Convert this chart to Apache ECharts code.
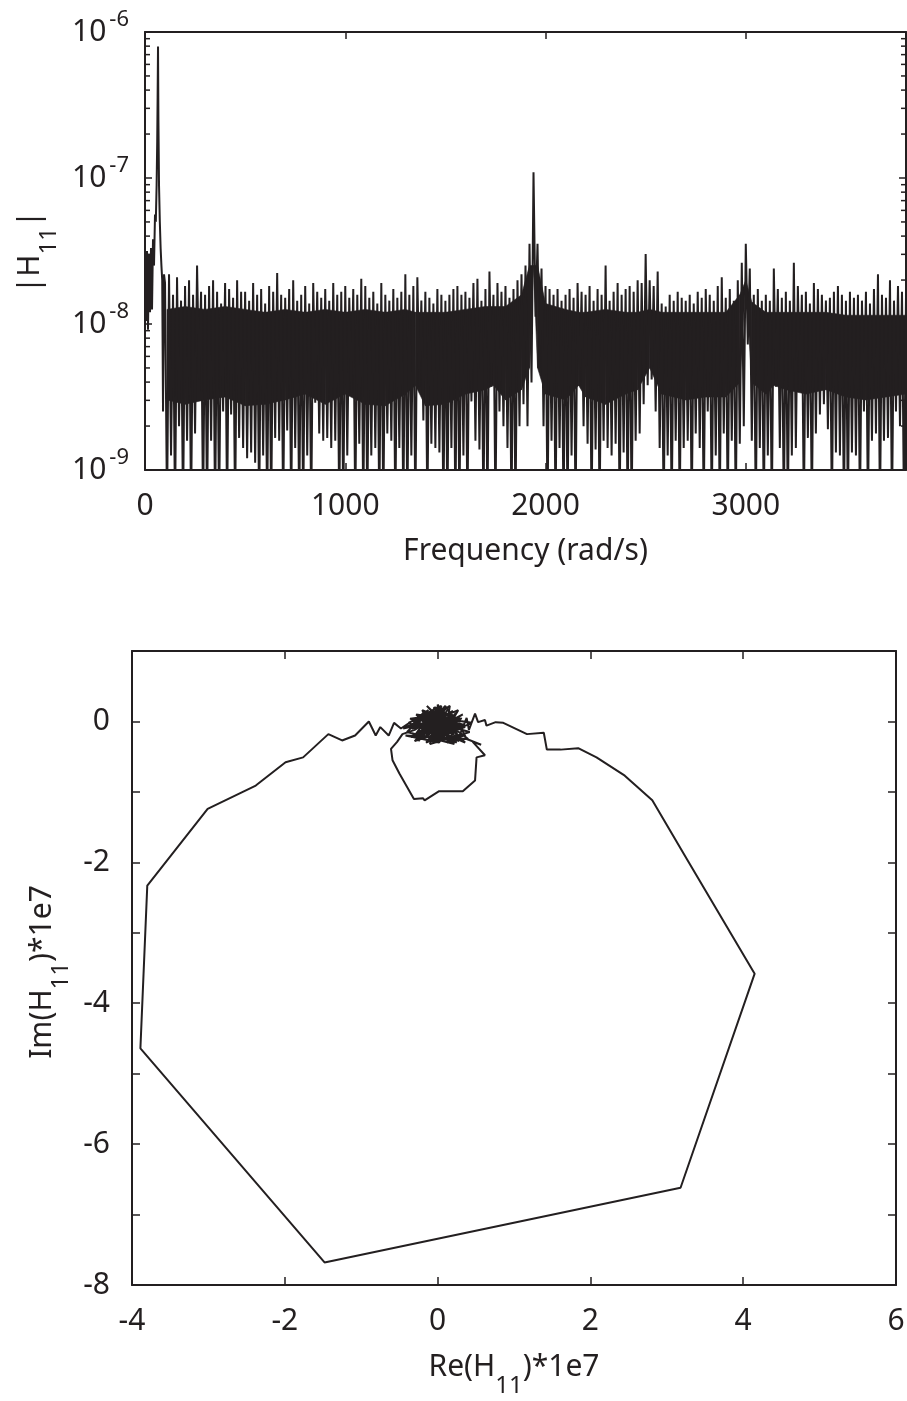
<!DOCTYPE html>
<html>
<head>
<meta charset="utf-8">
<script src="https://cdn.jsdelivr.net/npm/echarts@6/dist/echarts.min.js"></script>
<style>
  html, body { margin: 0; padding: 0; background: #fff; }
  #chart { width: 907px; height: 1401px; }
</style>
</head>
<body>
<div id="chart"></div>
<script>
var ink = '#231f20';
var font = 'Noto Sans';

// |H11|, stored as log10. Below 100 rad/s point by point,
// after that one high and one low reading per 20 rad/s bin
var lowFreq = [0, 5, 10, 15, 20, 25, 30, 35, 40, 45, 50, 54, 58, 61, 63, 65, 67, 70, 74, 78, 82, 86, 90, 95];
var lowMag = [-7.55, -7.98, -7.50, -8.04, -7.52, -7.92, -7.48, -7.90, -7.42, -7.60, -7.25, -7.30,
              -7.05, -6.75, -6.45, -6.10, -6.60, -7.05, -7.30, -7.48, -7.60, -7.70, -8.60, -7.66];

var noiseStart = 100;
var noiseStep = 20;
var noiseHi = [
  -7.72, -7.66, -7.80, -7.68, -7.84, -7.74, -7.70, -7.80, -7.60, -7.78,
  -7.80, -7.74, -7.70, -7.78, -7.86, -7.72, -7.76, -7.82, -7.70, -7.78,
  -7.78, -7.84, -7.72, -7.80, -7.76, -7.86, -7.74, -7.78, -7.65, -7.80,
  -7.82, -7.76, -7.70, -7.84, -7.80, -7.74, -7.86, -7.72, -7.78, -7.82,
  -7.76, -7.84, -7.72, -7.80, -7.78, -7.74, -7.82, -7.76, -7.80, -7.69,
  -7.74, -7.82, -7.78, -7.86, -7.72, -7.80, -7.84, -7.76, -7.82, -7.78,
  -7.66, -7.80, -7.74, -7.68, -7.84, -7.78, -7.82, -7.86, -7.76, -7.80,
  -7.84, -7.80, -7.76, -7.74, -7.80, -7.78, -7.82, -7.72, -7.69, -7.84,
  -7.76, -7.64, -7.80, -7.72, -7.78, -7.74, -7.82, -7.76, -7.70, -7.66,
  -7.60, -7.45, -6.96, -7.45, -7.62, -7.74, -7.76, -7.80, -7.76, -7.84,
  -7.80, -7.76, -7.82, -7.72, -7.78, -7.80, -7.74, -7.84, -7.76, -7.80,
  -7.60, -7.84, -7.78, -7.72, -7.80, -7.76, -7.74, -7.78, -7.70, -7.72,
  -7.52, -7.70, -7.74, -7.64, -7.86, -7.88, -7.80, -7.84, -7.78, -7.82,
  -7.84, -7.80, -7.86, -7.78, -7.82, -7.76, -7.80, -7.84, -7.74, -7.68,
  -7.82, -7.76, -7.84, -7.70, -7.58, -7.45, -7.62, -7.80, -7.76, -7.84,
  -7.80, -7.84, -7.62, -7.76, -7.82, -7.78, -7.84, -7.58, -7.74, -7.80,
  -7.78, -7.86, -7.72, -7.76, -7.80, -7.84, -7.82, -7.78, -7.74, -7.80,
  -7.84, -7.78, -7.82, -7.80, -7.84, -7.78, -7.86, -7.76, -7.66, -7.80,
  -7.82, -7.70, -7.84, -7.74, -7.78, -7.80
];
var noiseLo = [
  -9.30, -8.90, -9.30, -8.70, -9.30, -8.80, -9.30, -8.75, -8.38, -9.30,
  -9.30, -8.80, -9.30, -9.30, -8.60, -9.30, -8.62, -9.30, -8.78, -8.85,
  -8.92, -8.88, -8.95, -9.30, -8.90, -9.30, -9.30, -8.78, -8.80, -9.30,
  -8.73, -9.30, -8.85, -9.30, -9.30, -8.90, -9.30, -8.54, -8.75, -8.80,
  -8.78, -8.85, -8.80, -9.30, -9.30, -8.90, -8.47, -9.30, -8.82, -9.30,
  -9.30, -8.90, -8.85, -9.30, -9.30, -8.75, -8.80, -9.30, -8.85, -9.30,
  -9.30, -8.90, -9.30, -8.43, -8.66, -9.30, -8.82, -8.85, -8.88, -9.30,
  -9.30, -8.85, -9.30, -9.30, -8.90, -9.30, -8.53, -8.80, -8.86, -9.30,
  -9.30, -8.43, -9.30, -8.60, -8.70, -8.85, -9.30, -9.30, -8.70, -8.55,
  -8.70, -8.40, -7.95, -8.30, -8.70, -9.30, -8.80, -9.30, -8.85, -9.30,
  -9.30, -8.90, -9.30, -8.42, -8.70, -8.82, -9.30, -8.86, -9.30, -8.80,
  -8.85, -8.90, -8.82, -9.30, -8.88, -9.30, -9.30, -8.80, -8.75, -8.55,
  -8.42, -8.38, -8.60, -8.85, -9.30, -8.90, -9.30, -8.80, -9.30, -8.85,
  -8.80, -9.30, -8.75, -8.85, -9.30, -8.60, -9.30, -8.90, -9.30, -8.75,
  -9.30, -8.80, -9.30, -8.82, -8.70, -8.14, -8.80, -9.30, -8.85, -9.30,
  -8.90, -9.30, -8.43, -8.85, -9.30, -9.30, -8.90, -8.85, -8.45, -9.30,
  -8.78, -9.30, -8.75, -8.62, -8.55, -8.72, -9.30, -8.88, -8.90, -9.30,
  -9.30, -8.88, -8.90, -9.30, -8.60, -9.30, -8.80, -8.75, -9.30, -8.80,
  -8.78, -9.30, -8.60, -8.70, -9.30, -8.90
];

// solid core of the noise band (log10 of its upper and lower edge)
var coreFreq = [110, 200, 300, 400, 500, 600, 700, 800, 900, 1000,
                1100, 1200, 1300, 1350, 1400, 1500, 1600, 1700, 1740, 1800,
                1880, 1920, 1940, 1960, 2000, 2100, 2165, 2200, 2300, 2400,
                2460, 2520, 2580, 2700, 2800, 2900, 2970, 3000, 3030, 3100,
                3140, 3200, 3300, 3400, 3500, 3600, 3700, 3800];
var coreTop = [-7.90, -7.88, -7.90, -7.88, -7.90, -7.92, -7.90, -7.92, -7.90, -7.92,
               -7.90, -7.92, -7.90, -7.92, -7.92, -7.92, -7.90, -7.88, -7.88, -7.88,
               -7.80, -7.60, -7.60, -7.60, -7.86, -7.90, -7.92, -7.92, -7.90, -7.92,
               -7.92, -7.90, -7.92, -7.92, -7.92, -7.92, -7.80, -7.70, -7.85, -7.92,
               -7.92, -7.92, -7.92, -7.92, -7.94, -7.94, -7.94, -7.94];
var coreBot = [-8.52, -8.55, -8.52, -8.50, -8.56, -8.55, -8.52, -8.48, -8.55, -8.48,
               -8.55, -8.56, -8.48, -8.42, -8.56, -8.55, -8.48, -8.45, -8.42, -8.52,
               -8.45, -8.30, -7.60, -8.30, -8.48, -8.52, -8.42, -8.50, -8.55, -8.48,
               -8.45, -8.30, -8.48, -8.52, -8.50, -8.50, -8.40, -7.70, -8.40, -8.48,
               -8.42, -8.45, -8.48, -8.45, -8.50, -8.52, -8.50, -8.48];

// Nyquist path, Re and Im scaled by 1e7
var nyqRe = [
  0.05, -0.45, 0.10, -0.30, 0.35, -0.20, 0.25, -0.38, 0.05, -0.10,
  0.42, -0.25, 0.15, -0.05, 0.30, -0.35, 0.20, -0.15, 0.45, -0.28,
  0.08, 0.00, 0.28, 0.38, 0.41, 0.49, 0.53, 0.62, 0.64, 0.76,
  0.86, 1.17, 1.39, 1.43, 1.61, 1.84, 2.08, 2.45, 2.81, 3.26,
  4.15, 3.18, -1.48, -3.89, -3.80, -3.01, -2.38, -1.99, -1.76, -1.43,
  -1.25, -1.08, -0.90, -0.81, -0.75, -0.64, -0.57, -0.48, -0.12, -0.40,
  0.22, -0.32, 0.12, -0.22, 0.33, -0.02, -0.18, 0.18, -0.08, 0.40,
  -0.42, 0.02, 0.27, -0.26, 0.14, -0.14, 0.36, -0.36, 0.06, -0.04,
  0.24, -0.20, 0.10, 0.16, -0.30, -0.46, -0.53, -0.61, -0.59, -0.50,
  -0.31, -0.19, -0.17, 0.02, 0.33, 0.49, 0.51, 0.62, 0.46, 0.57,
  0.38, 0.32, -0.10, 0.04, 0.20, -0.16, 0.08, -0.06, 0.26, -0.24,
  0.12, -0.30, -0.10, -0.25, 0.00, -0.15, 0.10, -0.05, 0.20, 0.05,
  0.30, 0.12, 0.34, 0.18, 0.02, -0.20, -0.08, 0.14, 0.28, -0.12,
  0.22, -0.34, -0.02, 0.30, -0.18, 0.08, 0.24, -0.06, 0.16, -0.22,
  0.36, 0.00, -0.28, 0.10, 0.26, -0.10, 0.04, -0.16, 0.20, -0.04,
  0.32
];
var nyqIm = [
  0.02, -0.10, 0.18, -0.28, -0.05, 0.12, -0.30, -0.02, 0.22, -0.32,
  -0.15, 0.05, -0.28, 0.20, 0.02, -0.22, 0.15, -0.30, -0.02, 0.10,
  -0.26, 0.24, -0.22, 0.05, -0.12, 0.11, -0.01, 0.02, -0.06, -0.01,
  -0.02, -0.18, -0.16, -0.40, -0.40, -0.38, -0.51, -0.77, -1.12, -1.95,
  -3.58, -6.62, -7.68, -4.64, -2.33, -1.24, -0.91, -0.58, -0.51, -0.18,
  -0.27, -0.20, 0.00, -0.20, -0.08, -0.20, -0.02, -0.10, 0.16, -0.15,
  -0.32, 0.00, 0.20, -0.25, 0.10, -0.10, -0.18, 0.08, 0.14, -0.25,
  -0.20, -0.30, 0.16, -0.08, -0.12, 0.22, -0.30, 0.04, 0.10, -0.24,
  0.00, -0.02, -0.20, 0.22, -0.12, -0.18, -0.29, -0.39, -0.55, -0.74,
  -1.10, -1.09, -1.12, -0.99, -0.99, -0.84, -0.51, -0.48, -0.29, -0.33,
  -0.25, -0.12, 0.04, -0.16, -0.06, 0.08, 0.16, -0.02, -0.16, -0.16,
  0.02, -0.20, 0.10, -0.28, 0.18, -0.22, 0.12, -0.28, 0.10, -0.24,
  -0.02, -0.30, -0.20, -0.26, 0.06, 0.16, -0.16, 0.18, -0.28, -0.06,
  0.04, -0.10, 0.20, -0.24, 0.02, -0.08, 0.12, -0.30, -0.16, 0.10,
  -0.08, -0.20, -0.24, 0.22, -0.04, -0.26, 0.14, -0.12, -0.30, 0.08,
  0.04
];

var freqMax = 3800;
var magMin = 1e-9, magMax = 1e-6;

// build the magnitude trace
var magData = [];
for (var i = 0; i < lowFreq.length; i++) {
  magData.push([lowFreq[i], Math.pow(10, lowMag[i])]);
}
for (var j = 0; j < noiseHi.length; j++) {
  var f = noiseStart + j * noiseStep;
  magData.push([f, Math.pow(10, noiseHi[j])]);
  magData.push([f + noiseStep / 2, Math.pow(10, noiseLo[j])]);
}

// one quad per pair of neighbouring core readings
var coreData = [];
for (var c = 0; c < coreFreq.length - 1; c++) {
  coreData.push([coreFreq[c], Math.pow(10, coreTop[c]), Math.pow(10, coreBot[c]),
                 coreFreq[c + 1], Math.pow(10, coreTop[c + 1]), Math.pow(10, coreBot[c + 1])]);
}

var nyqData = nyqRe.map(function (r, k) { return [r, nyqIm[k]]; });

// 2..9 times each decade, for the small log ticks
var magMinor = [];
for (var d = -9; d < -6; d++) {
  for (var m = 2; m <= 9; m++) magMinor.push([0, m * Math.pow(10, d)]);
}

// axis titles with a subscript, laid out from measured text widths
var measure = document.createElement('canvas').getContext('2d');
function textWidth(s, size) {
  measure.font = size + 'px "' + font + '"';
  return measure.measureText(s).width;
}
function subTitle(pre, sb, post, cx, cy, rot) {
  var w1 = textWidth(pre, 30), w2 = textWidth(sb, 24), w3 = textWidth(post, 30);
  var x0 = -(w1 + w2 + w3) / 2;
  function piece(s, size, x, y) {
    return {
      type: 'text', x: x, y: y, silent: true,
      style: { text: s, fontSize: size, fontFamily: font, fill: ink, align: 'left', verticalAlign: 'middle' }
    };
  }
  return {
    type: 'group', x: cx, y: cy, rotation: rot || 0, silent: true,
    children: [
      piece(pre, 30, x0, 0),
      piece(sb, 24, x0 + w1, 19),
      piece(post, 30, x0 + w1 + w2, 0)
    ]
  };
}

function frame(extra) {
  var base = {
    axisLine: { show: true, onZero: false, lineStyle: { color: ink, width: 2 } },
    axisTick: { show: true, inside: true, length: 7, lineStyle: { color: ink, width: 1.5 } },
    splitLine: { show: false },
    axisLabel: { show: false }
  };
  for (var key in extra) base[key] = extra[key];
  return base;
}
var tick8 = { show: true, inside: true, length: 8, lineStyle: { color: ink, width: 1.5 } };

var chart = echarts.init(document.getElementById('chart'), null, { renderer: 'canvas' });

chart.setOption({
  animation: false,
  backgroundColor: '#fff',
  grid: [
    { left: 145, right: 1, top: 32, bottom: 931, outerBoundsMode: 'none' },
    { left: 132, right: 11, top: 651, bottom: 116, outerBoundsMode: 'none' }
  ],
  graphic: [
    subTitle('|H', '11', '|', 30, 252, Math.PI / 2),
    subTitle('Im(H', '11', ')*1e7', 42, 972, Math.PI / 2),
    subTitle('Re(H', '11', ')*1e7', 514, 1367, 0)
  ],
  xAxis: [
    frame({
      gridIndex: 0, type: 'value', min: 0, max: freqMax, interval: 1000, position: 'bottom',
      axisLabel: {
        show: true, margin: 21, lineHeight: 30, fontFamily: font, fontSize: 30, color: ink,
        formatter: function (v) { return v % 1000 === 0 ? String(v) : ''; }
      },
      name: 'Frequency (rad/s)', nameLocation: 'middle', nameGap: 66,
      nameTextStyle: { fontFamily: font, fontSize: 30, color: ink, lineHeight: 30 }
    }),
    frame({ gridIndex: 0, type: 'value', min: 0, max: freqMax, interval: 1000, position: 'top' }),
    frame({
      gridIndex: 1, type: 'value', min: -4, max: 6, interval: 2, position: 'bottom', axisTick: tick8,
      axisLabel: { show: true, margin: 21, lineHeight: 30, fontFamily: font, fontSize: 30, color: ink }
    }),
    frame({ gridIndex: 1, type: 'value', min: -4, max: 6, interval: 2, position: 'top', axisTick: tick8 })
  ],
  yAxis: [
    frame({
      gridIndex: 0, type: 'log', logBase: 10, min: magMin, max: magMax, splitNumber: 3, position: 'left',
      axisLabel: {
        show: true, margin: 16,
        formatter: function (v) { return '{b|10}{e|' + Math.round(Math.log10(v)) + '}'; },
        rich: {
          b: { fontFamily: font, fontSize: 30, color: ink, lineHeight: 46 },
          e: { fontFamily: font, fontSize: 22, color: ink, lineHeight: 22, verticalAlign: 'top', padding: [0, 0, 0, 3] }
        }
      }
    }),
    frame({ gridIndex: 0, type: 'log', logBase: 10, min: magMin, max: magMax, splitNumber: 3, position: 'right' }),
    frame({
      gridIndex: 1, type: 'value', min: -8, max: 1, interval: 1, position: 'left', axisTick: tick8,
      axisLabel: {
        show: true, margin: 22, fontFamily: font, fontSize: 30, color: ink,
        formatter: function (v) { return v % 2 === 0 ? String(v) : ''; }
      }
    }),
    frame({ gridIndex: 1, type: 'value', min: -8, max: 1, interval: 1, position: 'right', axisTick: tick8 })
  ],
  series: [
    {
      // filled core of the noise band
      type: 'custom', xAxisIndex: 0, yAxisIndex: 0, silent: true,
      data: coreData,
      renderItem: function (params, api) {
        var a = api.coord([api.value(0), api.value(1)]);
        var b = api.coord([api.value(3), api.value(4)]);
        var e = api.coord([api.value(3), api.value(5)]);
        var g = api.coord([api.value(0), api.value(2)]);
        return { type: 'polygon', shape: { points: [a, b, e, g] }, style: { fill: ink, stroke: ink, lineWidth: 0.6 } };
      }
    },
    {
      type: 'line', xAxisIndex: 0, yAxisIndex: 0, data: magData,
      showSymbol: false, symbol: 'none', clip: true,
      lineStyle: { color: ink, width: 2 }
    },
    {
      // minor log ticks, left and right edge
      type: 'custom', xAxisIndex: 0, yAxisIndex: 0, silent: true, clip: false,
      data: magMinor,
      renderItem: function (params, api) {
        var l = api.coord([0, api.value(1)]);
        var r = api.coord([freqMax, api.value(1)]);
        return {
          type: 'group',
          children: [
            { type: 'line', shape: { x1: l[0], y1: l[1], x2: l[0] + 5, y2: l[1] }, style: { stroke: ink, lineWidth: 1.5 } },
            { type: 'line', shape: { x1: r[0], y1: r[1], x2: r[0] - 5, y2: r[1] }, style: { stroke: ink, lineWidth: 1.5 } }
          ]
        };
      }
    },
    {
      type: 'line', xAxisIndex: 2, yAxisIndex: 2, data: nyqData,
      showSymbol: false, symbol: 'none', clip: true,
      lineStyle: { color: ink, width: 2 }
    }
  ]
});
</script>
</body>
</html>
